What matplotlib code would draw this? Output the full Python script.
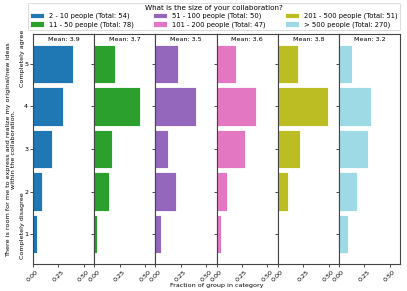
import numpy as np
import matplotlib
matplotlib.use("Agg")
import matplotlib.pyplot as plt

groups = ["2 - 10 people", "11 - 50 people", "51 - 100 people",
          "101 - 200 people", "201 - 500 people", "> 500 people"]
colors = ["#1f77b4", "#2ca02c", "#9467bd", "#e377c2", "#bcbd22", "#9edae5"]
levels = [1, 2, 3, 4, 5]
# counts per answer level 1..5
counts_2_10 = [2, 5, 10, 16, 21]
counts_11_50 = [2, 11, 14, 35, 16]
counts_51_100 = [3, 10, 6, 20, 11]
counts_101_200 = [2, 5, 13, 18, 9]
counts_201_500 = [0, 5, 11, 25, 10]
counts_500_plus = [23, 49, 78, 85, 35]
all_counts = [counts_2_10, counts_11_50, counts_51_100,
              counts_101_200, counts_201_500, counts_500_plus]
xticks = [0.0, 0.25, 0.5]

FS = 4.6
fig = plt.figure(figsize=(4.07, 2.91), dpi=100)
W, H = 407, 291
left, right, top, bottom = 33 / W, 400 / W, 1 - 34 / H, 1 - 264 / H
axes = fig.subplots(1, 6, sharey=True, sharex=True,
                    gridspec_kw=dict(wspace=0))
fig.subplots_adjust(left=left, right=right, top=top, bottom=bottom, wspace=0)

handles = []
for i, (ax, cnt, col, name) in enumerate(zip(axes, all_counts, colors, groups)):
    cnt = np.array(cnt, dtype=float)
    total = cnt.sum()
    frac = cnt / total
    mean = (np.array(levels) * cnt).sum() / total
    b = ax.barh(levels, frac, height=0.9, color=col, edgecolor="white",
                linewidth=0.6, label=f"{name} (Total: {int(total)})")
    handles.append(b)
    ax.text(0.5, 0.985, f"Mean: {mean:.1f}", transform=ax.transAxes,
            ha="center", va="top", fontsize=FS)
    ax.set_xlim(0, 0.6)
    ax.set_ylim(0.3, 5.7)
    ax.set_xticks(xticks)
    ax.set_xticklabels([f"{x:.2f}" for x in xticks], rotation=45,
                       fontsize=FS, ha="center")
    ax.set_yticks(levels)
    ax.tick_params(axis="both", length=2, width=0.5, pad=1.5, labelsize=FS)
    for s in ax.spines.values():
        s.set_linewidth(0.8)
        s.set_color("#444444")
    if i > 0:
        ax.tick_params(axis="y", labelleft=False)

axes[0].set_yticklabels([str(l) for l in levels])
fig.text((left + right) / 2, 3 / H, "Fraction of group in category",
         ha="center", va="bottom", fontsize=FS)

# y-axis descriptive labels
fig.text(22.5 / W, 1 - 58 / H, "Completely agree",
         rotation=90, ha="center", va="center", fontsize=FS)
fig.text(22.5 / W, 1 - 226 / H, "Completely disagree",
         rotation=90, ha="center", va="center", fontsize=FS)
fig.text(11 / W, 1 - 150 / H,
         "There is room for me to express and realize my original/new ideas\nwithin the collaboration.",
         rotation=90, ha="center", va="center", fontsize=FS,
         multialignment="center")

leg = fig.legend(handles=handles, loc="lower left",
                 bbox_to_anchor=(28 / W, 1 - 30 / H, 372 / W, 27 / H),
                 mode="expand", ncol=3, fontsize=4.9,
                 title="What is the size of your collaboration?",
                 title_fontsize=5.2, frameon=True, handlelength=2.0,
                 handleheight=0.8, borderpad=0.3, labelspacing=0.3,
                 borderaxespad=0, columnspacing=1.0)
leg.get_frame().set_linewidth(0.6)
leg.get_frame().set_edgecolor("#cccccc")

fig.savefig("out.png", dpi=100)
